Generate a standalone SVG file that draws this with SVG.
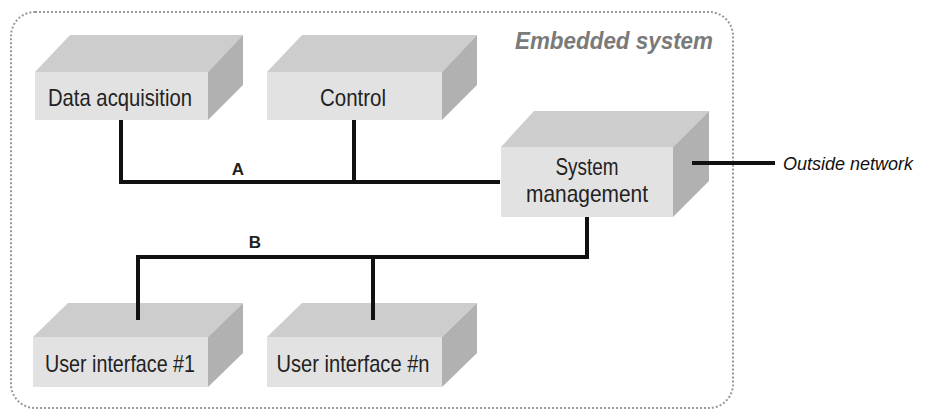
<svg xmlns="http://www.w3.org/2000/svg" width="930" height="410" viewBox="0 0 930 410">
<defs>
<style>
.top{fill:#cdcdcd}
.front{fill:#e2e2e2}
.side{fill:#b1b1b1}
.lbl{font-family:"Liberation Sans Narrow","Liberation Sans",Arial,sans-serif;font-size:24px;fill:#222;text-anchor:middle}
.it{font-family:"Liberation Sans Narrow","Liberation Sans",Arial,sans-serif;font-style:italic;font-size:23px}
.bus{font-family:"Liberation Sans",Arial,sans-serif;font-weight:bold;font-size:17px;fill:#222;text-anchor:middle}
.wire{stroke:#111;stroke-width:4;fill:none}
</style>
</defs>
<rect width="930" height="410" fill="#fff"/>
<rect id="embedded-border" x="11" y="12" width="722" height="396" rx="24" fill="none" stroke="#999" stroke-width="2" stroke-dasharray="2 2"/>
<text class="it" x="713" y="49" text-anchor="end" fill="#7a7a7a" font-weight="bold" textLength="198" lengthAdjust="spacingAndGlyphs">Embedded system</text>

<g id="data-acquisition">
<polygon class="top" points="35,72 70,35 243,35 208,72"/>
<polygon class="side" points="208,72 243,35 243,85 208,120"/>
<rect class="front" x="35" y="72" width="173" height="48"/>
<text class="lbl" x="120" y="106" textLength="144" lengthAdjust="spacingAndGlyphs">Data acquisition</text>
</g>

<g id="control">
<polygon class="top" points="267,72 302,35 477,35 442,72"/>
<polygon class="side" points="442,72 477,35 477,85 442,120"/>
<rect class="front" x="267" y="72" width="175" height="48"/>
<text class="lbl" x="353" y="106" textLength="66" lengthAdjust="spacingAndGlyphs">Control</text>
</g>

<g id="system-management">
<polygon class="top" points="501,147 534,111 709,111 673,147"/>
<polygon class="side" points="673,147 709,111 709,181 673,217"/>
<rect class="front" x="501" y="147" width="172" height="70"/>
<text class="lbl" x="587" y="175" textLength="63" lengthAdjust="spacingAndGlyphs">System</text>
<text class="lbl" x="587" y="202" textLength="122" lengthAdjust="spacingAndGlyphs">management</text>
</g>

<g id="user-interface-1">
<polygon class="top" points="33,337 68,303 243,303 208,337"/>
<polygon class="side" points="208,337 243,303 243,353 208,387"/>
<rect class="front" x="33" y="337" width="175" height="50"/>
<text class="lbl" x="120" y="372" textLength="150" lengthAdjust="spacingAndGlyphs">User interface #1</text>
</g>

<g id="user-interface-n">
<polygon class="top" points="267,337 302,303 477,303 442,337"/>
<polygon class="side" points="442,337 477,303 477,353 442,387"/>
<rect class="front" x="267" y="337" width="175" height="50"/>
<text class="lbl" x="353" y="372" textLength="153" lengthAdjust="spacingAndGlyphs">User interface #n</text>
</g>

<g id="connectors">
<polyline class="wire" points="121,120 121,182 500,182"/>
<line class="wire" x1="354" y1="120" x2="354" y2="182"/>
<polyline class="wire" points="587,217 587,257 138,257 138,320"/>
<line class="wire" x1="373" y1="257" x2="373" y2="320"/>
<line class="wire" x1="692" y1="163" x2="775" y2="163"/>
<text class="bus" x="238" y="175">A</text>
<text class="bus" x="255" y="248">B</text>
</g>

<text x="783" y="170" fill="#111" font-family="'Liberation Sans', Arial, sans-serif" font-style="italic" font-size="18">Outside network</text>
</svg>
